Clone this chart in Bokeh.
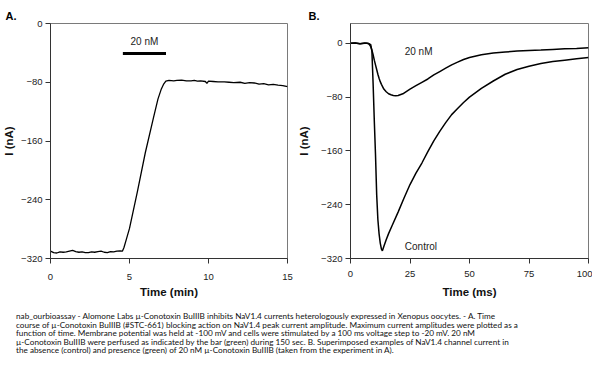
from bokeh.plotting import figure
from bokeh.models import Label, Div, Range1d, FixedTicker
from bokeh.layouts import row, column
from bokeh.embed import file_html
from bokeh.resources import INLINE

# ---------------- Panel A: time course ----------------
a_time = [0, 0.2, 0.4, 0.6, 0.8, 1.0, 1.2, 1.4, 1.6, 1.8, 2.0, 2.2, 2.4, 2.6, 2.8,
          3.0, 3.2, 3.4, 3.6, 3.8, 4.0, 4.2, 4.4, 4.55, 4.65, 4.8, 5.0, 5.5, 6.0,
          6.5, 6.8, 7.0, 7.15, 7.3, 7.5, 7.8, 8.0, 8.3, 8.6, 8.9, 9.1, 9.3, 9.5,
          9.8, 9.9, 10.0, 10.3, 10.6, 11.0, 11.3, 11.6, 12.0, 12.3, 12.6, 12.9,
          13.2, 13.5, 13.8, 14.1, 14.4, 14.7, 15.0]
a_current = [-310, -312, -312.5, -311, -311.5, -311, -310, -309, -310.5, -311.5, -311,
             -312, -312, -311, -311.5, -310.5, -310, -311.5, -312, -310.5, -311, -310,
             -309.5, -310, -305, -294, -279, -229, -176, -130, -103, -90, -83, -78.5,
             -77.5, -78, -77.5, -77, -78, -78, -77.5, -78.5, -78, -79, -81.5, -78.5,
             -79, -79.5, -79.5, -80, -80.5, -80, -81.5, -80.5, -81, -82.5, -82, -83.5,
             -83, -84, -84.5, -86]
a_bar_time = [4.58, 7.31]
a_bar_level = [-41, -41]
a_bar_label = "20 nM"
a_xticks = [0, 5, 10, 15]
a_yticks = [0, -80, -160, -240, -320]

# ---------------- Panel B: current traces ----------------
b_time_control = [0, 2, 4, 6, 7.5, 8.5, 9.0, 9.5, 10.0, 10.5, 11.0, 11.5, 12.0, 12.5,
                  13.0, 13.4, 14.0, 15.0, 16.0, 17.5, 20, 22.5, 25, 27.5, 30, 32.5, 35,
                  37.5, 40, 42.5, 45, 47.5, 50, 55, 60, 65, 70, 75, 80, 85, 90, 95, 100]
b_control = [0, 0.5, -0.5, 0.3, 0, -2, -12, -60, -115, -165, -225, -262, -283, -297,
             -306, -308.5, -302, -292, -283, -271, -251, -230, -210, -193, -178, -161,
             -145, -131, -118, -106, -97, -88, -80, -67, -56, -46, -39, -34, -30, -27,
             -25, -23, -21]
b_time_20nm = [0, 2, 4, 6, 7.0, 7.8, 8.5, 9.0, 9.5, 10.0, 10.5, 11, 11.5, 12, 12.5, 13,
               14, 15, 16, 17, 18, 19, 20, 22, 25, 27.5, 30, 32.5, 35, 37.5, 40, 42.5,
               45, 47.5, 50, 55, 60, 65, 70, 75, 80, 85, 90, 95, 100]
b_20nm = [0, 0.5, -0.5, 0.5, 0, -1, -5, -10, -17, -25, -32, -39, -46, -52, -57, -61,
          -68, -72, -75, -76.5, -77.5, -78, -77.5, -75, -68, -63, -58, -53, -47, -42,
          -37, -32, -28, -24, -21, -17, -14.5, -13, -11.5, -10.5, -10, -9, -8, -7.5,
          -6.5]
b_label_20nm = "20 nM"
b_label_control = "Control"
b_xticks = [0, 25, 50, 75, 100]
b_yticks = [0, -80, -160, -240, -320]

panel_letters = ["A.", "B."]

caption_lines = [
    "nab_ourbioassay - Alomone Labs µ-Conotoxin BuIIIB inhibits NaV1.4 currents heterologously expressed in Xenopus oocytes. - A. Time",
    "course of µ-Conotoxin BuIIIB (#STC-661) blocking action on NaV1.4 peak current amplitude. Maximum current amplitudes were plotted as a",
    "function of time. Membrane potential was held at -100 mV and cells were stimulated by a 100 ms voltage step to -20 mV. 20 nM",
    "µ-Conotoxin BuIIIB were perfused as indicated by the bar (green) during 150 sec. B. Superimposed examples of NaV1.4 channel current in",
    "the absence (control) and presence (green) of 20 nM µ-Conotoxin BuIIIB (taken from the experiment in A).",
]

TICK_FONT = "Liberation Sans Narrow, Liberation Sans"


def style(p, xticks, yticks, xlabel, ylabel, letter, letter_offset):
    p.outline_line_color = "#7a7a7a"
    p.outline_line_width = 1
    p.grid.visible = False
    p.background_fill_color = "white"
    p.border_fill_color = "white"
    p.xaxis.ticker = FixedTicker(ticks=xticks)
    p.yaxis.ticker = FixedTicker(ticks=yticks)
    p.xaxis.axis_label = xlabel
    p.yaxis.axis_label = ylabel
    for ax in (p.xaxis[0], p.yaxis[0]):
        ax.axis_line_color = "#333333"
        ax.major_tick_line_color = "#333333"
        ax.major_tick_out = 5
        ax.major_tick_in = 0
        ax.minor_tick_out = 0
        ax.minor_tick_in = 0
        ax.major_label_text_font = TICK_FONT
        ax.major_label_text_font_size = "9.5px"
        ax.major_label_text_color = "#222222"
        ax.axis_label_text_font = "Liberation Sans"
        ax.axis_label_text_font_style = "bold"
        ax.axis_label_text_font_size = "11.5px"
        ax.axis_label_text_color = "#111111"
    p.yaxis[0].major_label_standoff = 3
    p.yaxis[0].major_label_orientation = "horizontal"
    p.title.text = letter
    p.title.align = "left"
    p.title.offset = letter_offset
    p.title.standoff = 0
    p.title.vertical_align = "top"
    p.title.text_font = "Liberation Sans"
    p.title.text_font_style = "bold"
    p.title.text_font_size = "11px"
    p.title.text_color = "black"


# Panel A  (frame 238 x 238)
pA = figure(width=295, height=300, output_backend="svg", toolbar_location=None,
            x_range=Range1d(0, 15), y_range=Range1d(-320, 0),
            min_border_left=49, min_border_right=8, min_border_top=23, min_border_bottom=39)
style(pA, a_xticks, a_yticks, "Time (min)", "I (nA)", panel_letters[0], -45)
pA.xaxis[0].major_label_standoff = 10
pA.xaxis[0].axis_label_standoff = 3
pA.yaxis[0].axis_label_standoff = 3
pA.line(a_time, a_current, line_color="black", line_width=1.3)
pA.line(a_bar_time, a_bar_level, line_color="black", line_width=3)
pA.add_layout(Label(x=sum(a_bar_time) / 2, y=a_bar_level[0] + 9, text=a_bar_label,
                    text_align="center", text_baseline="bottom", text_font=TICK_FONT,
                    text_font_size="10px", text_color="#222222"))

# Panel B  (frame 240 x 241)
pB = figure(width=297, height=300, output_backend="svg", toolbar_location=None,
            x_range=Range1d(0, 100), y_range=Range1d(-320, 29.5),
            min_border_left=53, min_border_right=4, min_border_top=23, min_border_bottom=36)
style(pB, b_xticks, b_yticks, "Time (ms)", "I (nA)", panel_letters[1], -42)
pB.xaxis[0].major_label_standoff = 7
pB.xaxis[0].axis_label_standoff = 6
pB.yaxis[0].axis_label_standoff = 8
pB.line(b_time_20nm, b_20nm, line_color="black", line_width=1.5)
pB.line(b_time_control, b_control, line_color="black", line_width=1.5)
pB.add_layout(Label(x=28.6, y=-12.6, text=b_label_20nm, text_align="center",
                    text_baseline="middle", text_font=TICK_FONT, text_font_size="10px",
                    text_color="#222222"))
pB.add_layout(Label(x=29.6, y=-302, text=b_label_control, text_align="center",
                    text_baseline="middle", text_font=TICK_FONT, text_font_size="10px",
                    text_color="#222222"))

caption = Div(text="<br>".join(caption_lines), width=592, height=58,
              styles={"font-family": "Lato, sans-serif", "font-size": "8.2px",
                      "line-height": "8.5px", "white-space": "nowrap",
                      "padding-left": "11px", "padding-top": "7px", "color": "#111111"})

layout = column(row(pA, pB), caption)

with open("out.html", "w") as f:
    f.write(file_html(layout, INLINE))
